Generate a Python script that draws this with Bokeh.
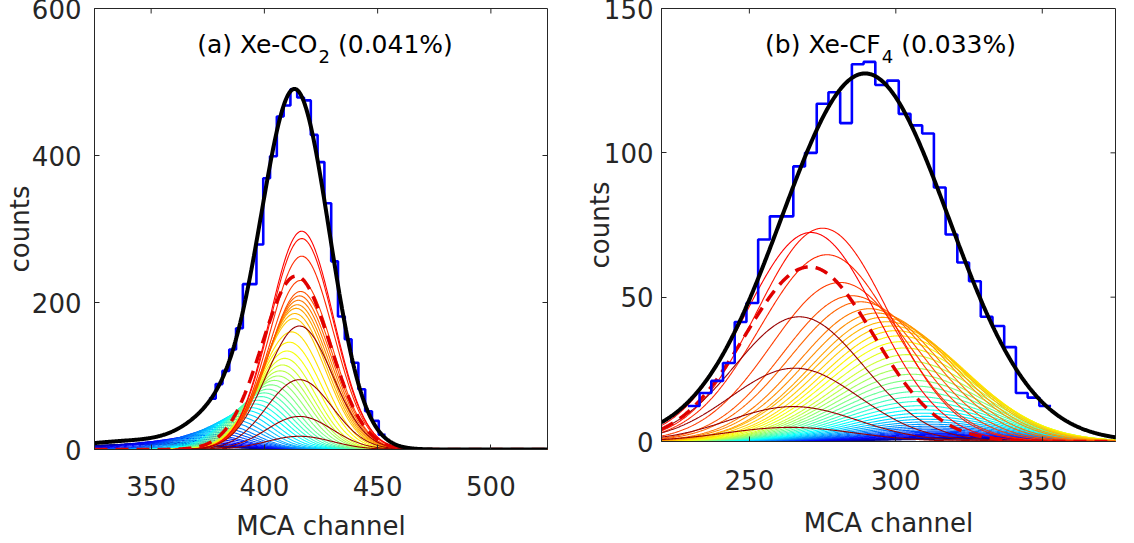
import numpy as np
from bokeh.plotting import figure
from bokeh.layouts import row
from bokeh.models import Range1d, FixedTicker, Label
from bokeh.embed import file_html
from bokeh.resources import INLINE

# ---------------- panel (a) Xe-CO2 ----------------
a_xticks = [350, 400, 450, 500]
a_yticks = [0, 200, 400, 600]
a_hist_edges = [375.5, 378.5, 381.5, 384.5, 387.5, 390.5, 393.5, 396.5, 399.5, 402.5,
                405.5, 408.5, 411.5, 414.5, 417.5, 420.5, 423.5, 426.5, 429.5, 432.5,
                435.5, 438.5, 441.5, 444.5, 447.5, 450.5, 453.5]
a_hist_counts = [69, 89, 107, 136, 165, 225, 225, 279, 369, 399,
                 453, 468, 490, 479, 475, 428, 391, 335, 256, 181,
                 150, 118, 82, 52, 39, 20]
a_fit_amp = [488, 40, 12]
a_fit_cen = [413.5, 380, 345]
a_fit_sig = [15.2, 14, 25]
a_dash_amp = [236]
a_dash_cen = [414]
a_dash_sig = [15]
a_dark_amp = [168, 95, 45, 18]
a_dark_cen = [415.5, 415.5, 415.5, 415.5]
a_dark_sig = [14.5, 14.5, 14.5, 14.5]
a_comp_amp = [7, 8, 9, 10, 12, 13, 15, 17, 19, 21, 24, 27, 30, 33, 37, 41, 45, 49, 53, 57,
              62, 67, 72, 77, 82, 88, 94, 100, 107, 115, 124, 134, 146, 160, 178, 185, 192,
              197, 203, 209, 215, 230, 263, 287, 297]
a_comp_cen = [345, 350, 354, 357, 360, 363, 366, 369, 372, 374, 376, 378, 380, 382, 384,
              386, 388, 390, 392, 394, 395.5, 397, 398.5, 400, 401.5, 403, 404.5, 406, 407,
              408, 409, 410, 411, 412, 413, 413.5, 414, 414.5, 415, 415.5, 416, 416, 416.5,
              416.5, 416.5]
a_comp_sig = [28, 26, 24, 22, 21, 20, 19, 18, 17, 16, 15.5, 15, 14.5, 14, 14,
              13.5, 13.5, 13.5, 13.5, 13.5, 13.5, 13.5, 13.5, 13.5, 13.5, 13.5, 13.5, 13.5,
              13.5, 13.5, 13.5, 13.8, 14, 14, 14, 14, 14, 14, 14, 14, 14, 14, 14, 14, 14]

# ---------------- panel (b) Xe-CF4 ----------------
b_xticks = [250, 300, 350]
b_yticks = [0, 50, 100, 150]
b_hist_edges = [229, 233, 237, 241, 245, 249, 253, 257, 261, 265, 269, 273, 277, 281, 285,
                289, 293, 297, 301, 305, 309, 313, 317, 321, 325, 329, 333, 337, 341, 345,
                349, 353]
b_hist_counts = [12.3, 16.8, 21, 27.2, 41.4, 48, 70, 78, 78, 95.3, 100, 117, 121, 110.3,
                 130.7, 131.5, 123.5, 125, 113.5, 109.5, 106.7, 88, 71.7, 62, 55.5, 43.2,
                 40, 32.7, 16.8, 15.2, 12.3]
b_fit_amp = [127.5]
b_fit_cen = [289.5]
b_fit_sig = [28.6]
b_dash_amp = [60.5]
b_dash_cen = [270.5]
b_dash_sig = [22]
b_dark_amp = [43.2, 25.4, 12.1, 4.9]
b_dark_cen = [267, 265.5, 265, 264]
b_dark_sig = [22, 22, 22, 22]
b_comp_amp = [0.8, 1.0, 1.2, 1.4, 1.6, 1.9, 2.2, 2.5, 2.8, 3.2, 3.6, 4.1, 4.7, 5.3, 6.0,
              6.8, 7.7, 8.7, 9.8, 11.0, 12.4, 13.9, 15.5, 17.3, 19.2, 21.2, 23.3, 25.5,
              27.8, 30.1, 32.4, 34.6, 36.6, 38.4, 40.0, 41.5, 43.0, 44.5, 46.0, 48.4, 50.5,
              55.1, 64.7, 73.9, 72.4]
b_comp_cen = [322, 321, 320, 319, 318, 317, 316, 315, 314.5, 314, 313.5, 313, 312.5, 312,
              311.5, 311, 310.5, 310, 309.5, 309, 308.5, 308, 307.5, 307, 306.5, 306, 305.5,
              305, 304.5, 304, 303, 302, 301, 300, 298.5, 297, 295.5, 293.5, 291, 288, 285,
              281, 276.5, 275, 271]
b_comp_sig = [25, 25, 25, 25, 25, 25, 25, 25, 25, 25, 25, 25, 25, 25, 25, 25, 25, 25, 25,
              25, 25, 25, 25, 25, 25, 25, 25, 25, 25, 25, 25, 25, 25, 25, 25, 25,
              24.5, 24.5, 24, 24, 23.5, 23.5, 23, 22.5, 22.5]

FONT = "DejaVu Sans"
TXT = "#262626"
TICK_PX = 5
# DejaVu Sans advance widths (em/1000) for title layout
ADV = {"(": 390, ")": 390, " ": 318, "a": 613, "b": 635, "X": 685, "e": 615, "-": 361,
       "C": 698, "O": 787, "F": 575, "0": 636, "1": 636, "2": 636, "3": 636, "4": 636,
       ".": 318, "%": 950}


def text_w(s, size):
    return sum(ADV.get(ch, 600) for ch in s) * size / 1000.0


def jet_hex(t):
    r = min(max(min(4 * t - 1.5, -4 * t + 4.5), 0), 1)
    g = min(max(min(4 * t - 0.5, -4 * t + 3.5), 0), 1)
    b = min(max(min(4 * t + 0.5, -4 * t + 2.5), 0), 1)
    return "#%02x%02x%02x" % (round(r * 255), round(g * 255), round(b * 255))


def gauss_list(x, amps, cens, sigs):
    return [a * np.exp(-(x - c) ** 2 / (2.0 * s * s)) for a, c, s in zip(amps, cens, sigs)]


def style_axis(ax, ticks, standoff):
    ax.ticker = FixedTicker(ticks=ticks)
    ax.major_tick_in = TICK_PX
    ax.major_tick_out = 0
    ax.minor_tick_in = 0
    ax.minor_tick_out = 0
    ax.axis_line_color = TXT
    ax.major_tick_line_color = TXT
    ax.major_label_text_font = FONT
    ax.major_label_text_font_size = "26px"
    ax.major_label_text_color = TXT
    ax.major_label_standoff = standoff
    ax.axis_label_text_font = FONT
    ax.axis_label_text_font_size = "26px"
    ax.axis_label_text_font_style = "normal"
    ax.axis_label_text_color = TXT


def make_panel(xr, yr, xticks, yticks, fw, fh, borders, edges, counts,
               comp, dark, dash, fit, title, xtick_so, xlab_so, ytick_so, ylab_so, title_dx):
    p = figure(frame_width=fw, frame_height=fh,
               x_range=Range1d(*xr), y_range=Range1d(*yr),
               output_backend="svg", toolbar_location=None,
               min_border_left=borders[0], min_border_right=borders[1],
               min_border_top=borders[2], min_border_bottom=borders[3])
    p.background_fill_color = "white"
    p.border_fill_color = "white"
    p.outline_line_color = TXT
    p.outline_line_width = 1
    p.xgrid.visible = False
    p.ygrid.visible = False

    style_axis(p.xaxis[0], xticks, xtick_so)
    style_axis(p.yaxis[0], yticks, ytick_so)
    p.xaxis[0].axis_label = "MCA channel"
    p.xaxis[0].axis_label_standoff = xlab_so
    p.yaxis[0].axis_label = "counts"
    p.yaxis[0].axis_label_standoff = ylab_so

    # mirrored inward ticks on the top and right edges of the box
    dy = TICK_PX * (yr[1] - yr[0]) / fh
    dx = TICK_PX * (xr[1] - xr[0]) / fw
    p.segment(x0=xticks, y0=[yr[1]] * len(xticks), x1=xticks, y1=[yr[1] - dy] * len(xticks),
              line_color=TXT, line_width=1)
    inner_y = [t for t in yticks if yr[0] < t < yr[1]]
    p.segment(x0=[xr[1]] * len(inner_y), y0=inner_y, x1=[xr[1] - dx] * len(inner_y), y1=inner_y,
              line_color=TXT, line_width=1)

    x = np.linspace(xr[0], xr[1], 700)
    amps, cens, sigs = comp
    n = len(amps)
    ys = gauss_list(x, amps, cens, sigs)
    colors = [jet_hex(0.875 * k / (n - 1)) for k in range(n)]
    p.multi_line(xs=[x] * n, ys=ys, line_color=colors, line_width=1.1)

    d_ys = gauss_list(x, *dark)
    p.multi_line(xs=[x] * len(d_ys), ys=d_ys, line_color="#990000", line_width=1.1)

    p.line(x, sum(gauss_list(x, *dash)), line_color="#e00000", line_width=3.5,
           line_dash="13 8")

    p.step(edges, counts + [counts[-1]], mode="after", line_color="#0000ff", line_width=2.6)

    p.line(x, sum(gauss_list(x, *fit)), line_color="black", line_width=4)

    # title with subscript
    main1, sub, main2 = title
    F, Fs = 25, 18
    w1 = text_w(main1, F)
    w2 = text_w(sub, Fs)
    sp = text_w(" ", F)
    w3 = text_w(main2, F)
    start = -(w1 + w2 + sp + w3) / 2.0 + title_dx
    cx = (xr[0] + xr[1]) / 2.0
    p.add_layout(Label(x=cx, y=yr[1], x_offset=start, y_offset=-36, text=main1,
                       text_font=FONT, text_font_size="%dpx" % F, text_color="black",
                       text_align="left", text_baseline="alphabetic"))
    p.add_layout(Label(x=cx, y=yr[1], x_offset=start + w1, y_offset=-48, text=sub,
                       text_font=FONT, text_font_size="%dpx" % Fs, text_color="black",
                       text_align="left", text_baseline="alphabetic"))
    p.add_layout(Label(x=cx, y=yr[1], x_offset=start + w1 + w2 + sp, y_offset=-36, text=main2,
                       text_font=FONT, text_font_size="%dpx" % F, text_color="black",
                       text_align="left", text_baseline="alphabetic"))
    return p


pa = make_panel((325, 525), (0, 600), a_xticks, a_yticks, 453, 441, (94, 4, 12, 90),
                a_hist_edges, a_hist_counts,
                (a_comp_amp, a_comp_cen, a_comp_sig),
                (a_dark_amp, a_dark_cen, a_dark_sig),
                (a_dash_amp, a_dash_cen, a_dash_sig),
                (a_fit_amp, a_fit_cen, a_fit_sig),
                ("(a) Xe-CO", "2", "(0.041%)"), 26, 12, 13, -6, 4)

pb = make_panel((220, 375), (0, 150), b_xticks, b_yticks, 454, 433, (110, 2, 16, 94),
                b_hist_edges, b_hist_counts,
                (b_comp_amp, b_comp_cen, b_comp_sig),
                (b_dark_amp, b_dark_cen, b_dark_sig),
                (b_dash_amp, b_dash_cen, b_dash_sig),
                (b_fit_amp, b_fit_cen, b_fit_sig),
                ("(b) Xe-CF", "4", "(0.033%)"), 28, 15, 8, -14, 2)

# pull the row into the page's top/bottom 8px margins so the box sits where the reference has it
layout = row(pa, pb, spacing=0, margin=(-8, 0, -8, 0))
open("out.html", "w").write(file_html(layout, INLINE))
